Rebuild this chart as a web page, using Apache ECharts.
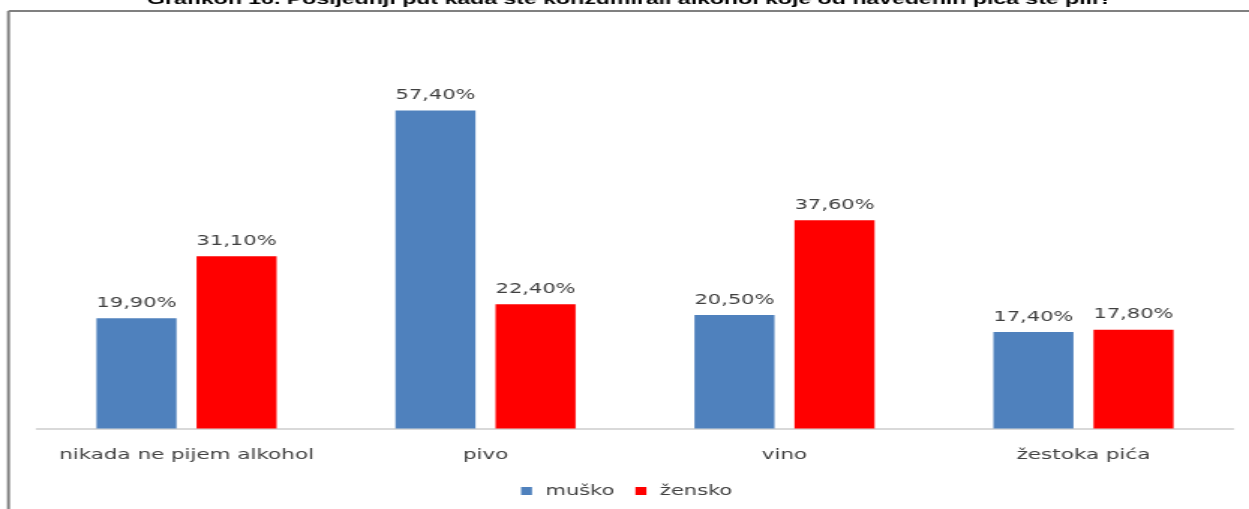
<!DOCTYPE html>
<html>
<head>
<meta charset="utf-8">
<script src="https://cdn.jsdelivr.net/npm/echarts@6/dist/echarts.min.js"></script>
<style>
html,body{margin:0;padding:0;background:#fff;overflow:hidden;width:1249px;height:509px;scrollbar-width:none;}
::-webkit-scrollbar{display:none;width:0;height:0;}
#wrap{position:absolute;left:0;top:0;width:1249px;height:509px;overflow:hidden;}
#chart{width:840px;height:509px;transform:scaleX(1.4994);transform-origin:0 0;}
</style>
</head>
<body>
<div id="wrap"><div id="chart"></div></div>
<script>
const titleText = 'Grafikon 16. Posljednji put kada ste konzumirali alkohol koje od navedenih pića ste pili?';
const categories = ['nikada ne pijem alkohol', 'pivo', 'vino', 'žestoka pića'];
const seriesNames = ['muško', 'žensko'];
const musko = [19.9, 57.4, 20.5, 17.4];
const zensko = [31.1, 22.4, 37.6, 17.8];

const fmt = p => p.value.toFixed(2).replace('.', ',') + '%';
const labelStyle = {
  show: true, position: 'top', distance: 8, formatter: fmt,
  color: '#404040', fontFamily: 'DejaVu Sans', fontSize: 14
};

const chart = echarts.init(document.getElementById('chart'));
chart.setOption({
  animation: false,
  title: {
    text: titleText, left: 420, textAlign: 'center', top: -8, padding: 0,
    textStyle: { fontFamily: 'Liberation Sans', fontWeight: 'bold', fontSize: 15.4, lineHeight: 16, color: '#000' }
  },
  graphic: [
    { type: 'line', shape: { x1: 5.67, y1: 11, x2: 5.67, y2: 520 },
      style: { stroke: '#808080', lineWidth: 2 }, silent: true },
    { type: 'line', shape: { x1: 5.67, y1: 11, x2: 840, y2: 11 },
      style: { stroke: '#808080', lineWidth: 2 }, silent: true }
  ],
  legend: {
    data: seriesNames, left: 342.5, top: 479, itemWidth: 7.3, itemHeight: 8, itemGap: 14,
    icon: 'rect',
    textStyle: { color: '#404040', fontFamily: 'DejaVu Sans', fontSize: 14, padding: [0, 0, 0, 4] }
  },
  grid: { left: 24.7, right: 17.7, top: 96, bottom: 80.5, containLabel: false },
  xAxis: {
    type: 'category', data: categories,
    axisLine: { lineStyle: { color: '#d9d9d9', width: 2 } },
    axisTick: { show: false },
    axisLabel: { interval: 0, margin: 20, color: '#404040', fontFamily: 'DejaVu Sans', fontSize: 14.3 }
  },
  yAxis: { type: 'value', min: 0, max: 60, show: false, splitLine: { show: false } },
  series: [
    { name: seriesNames[0], type: 'bar', data: musko, barWidth: 53.4, barGap: '25%',
      itemStyle: { color: '#4f81bd' }, label: labelStyle },
    { name: seriesNames[1], type: 'bar', data: zensko, barWidth: 53.4,
      itemStyle: { color: '#ff0000' }, label: labelStyle }
  ]
});
</script>
</body>
</html>
